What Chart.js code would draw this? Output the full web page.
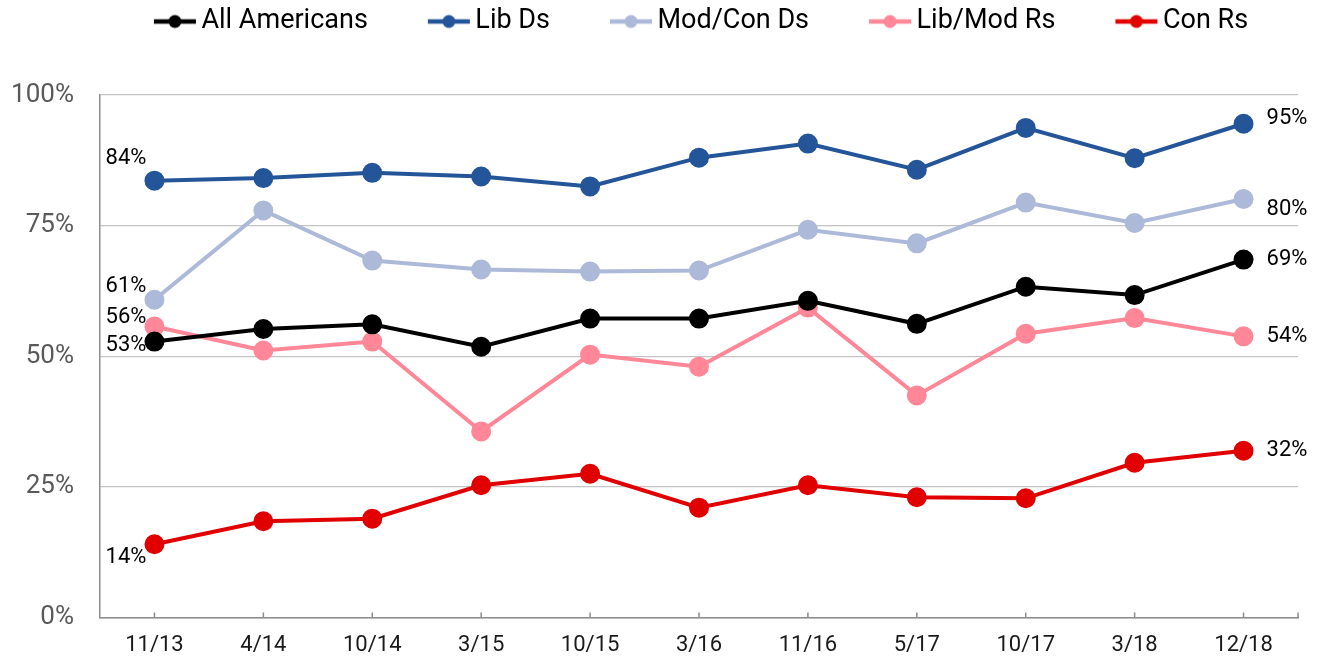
<!DOCTYPE html>
<html>
<head>
<meta charset="utf-8">
<script src="https://cdn.jsdelivr.net/npm/chart.js@4"></script>
<style>
  html, body { margin: 0; padding: 0; background: #fff; }
  #wrap { width: 1328px; height: 659px; }
</style>
</head>
<body>
<div id="wrap"><canvas id="myChart"></canvas></div>
<script>
var surveys = ["11/13","4/14","10/14","3/15","10/15","3/16","11/16","5/17","10/17","3/18","12/18"]
var allAmericans = [52.8, 55.2, 56.1, 51.8, 57.2, 57.2, 60.6, 56.2, 63.3, 61.7, 68.5]
var libDs = [83.6, 84.1, 85.1, 84.4, 82.5, 88.0, 90.7, 85.7, 93.7, 87.9, 94.5]
var modConDs = [60.8, 77.9, 68.3, 66.6, 66.2, 66.4, 74.2, 71.6, 79.4, 75.5, 80.1]
var libModRs = [55.7, 51.1, 52.8, 35.6, 50.3, 48.0, 59.3, 42.5, 54.3, 57.3, 53.8]
var conRs = [14.0, 18.4, 18.9, 25.3, 27.5, 21.0, 25.3, 23.0, 22.8, 29.6, 31.9]
var yTicks = [0, 25, 50, 75, 100]

var colors = ["#000000", "#245599", "#adb9d9", "#ff8797", "#e00000"]
// vertical nudge of the first-point labels, per series
var firstLabelDy = [4, -22, -13, -9, 13]
var lastLabelDy = [0, -5, 11, 0, 0]

function makeMarker(color) {
  var c = document.createElement("canvas")
  c.width = 110
  c.height = 20
  var g = c.getContext("2d")
  g.strokeStyle = color
  g.lineWidth = 4.5
  g.beginPath()
  g.moveTo(67, 10)
  g.lineTo(109, 10)
  g.stroke()
  g.fillStyle = color
  g.beginPath()
  g.arc(88, 10, 6.5, 0, Math.PI * 2)
  g.fill()
  return c
}
var markers = colors.map(makeMarker)

function series(label, data, i) {
  return {
    label: label,
    data: data,
    borderColor: colors[i],
    backgroundColor: colors[i],
    pointBackgroundColor: colors[i],
    pointBorderColor: colors[i],
    borderWidth: 4,
    pointRadius: 8,
    pointHoverRadius: 8,
    fill: false,
    tension: 0
  }
}

var endLabels = {
  id: "endLabels",
  afterDatasetsDraw: function (chart) {
    var ctx = chart.ctx
    ctx.save()
    ctx.font = "22px Roboto"
    ctx.fillStyle = "#000"
    ctx.textBaseline = "middle"
    chart.data.datasets.forEach(function (ds, i) {
      var meta = chart.getDatasetMeta(i)
      var p0 = meta.data[0]
      var pN = meta.data[meta.data.length - 1]
      ctx.textAlign = "right"
      ctx.fillText(Math.round(ds.data[0]) + "%", p0.x - 8, p0.y + firstLabelDy[i])
      ctx.textAlign = "left"
      ctx.fillText(Math.round(ds.data[ds.data.length - 1]) + "%", pN.x + 23, pN.y + lastLabelDy[i])
    })
    ctx.restore()
  }
}

var upTicks = {
  id: "upTicks",
  afterDraw: function (chart) {
    var ctx = chart.ctx
    var x = chart.scales.x
    var bottom = chart.chartArea.bottom
    ctx.save()
    ctx.strokeStyle = "#8c8c8c"
    ctx.lineWidth = 1.5
    ctx.beginPath()
    surveys.forEach(function (s, i) {
      var px = x.getPixelForValue(i)
      ctx.moveTo(px, bottom)
      ctx.lineTo(px, bottom - 5)
    })
    ctx.moveTo(chart.chartArea.right, bottom)
    ctx.lineTo(chart.chartArea.right, bottom - 5)
    ctx.stroke()
    ctx.restore()
  }
}

var legendShift = {
  id: "legendShift",
  afterLayout: function (chart) {
    var lg = chart.legend
    lg.left += 23
    lg.right += 23
    lg.top -= 50
    lg.bottom -= 50
  }
}

var ctx = document.getElementById("myChart")
var myChart = new Chart(ctx, {
  type: "line",
  data: {
    labels: surveys,
    datasets: [
      series("All Americans", allAmericans, 0),
      series("Lib Ds", libDs, 1),
      series("Mod/Con Ds", modConDs, 2),
      series("Lib/Mod Rs", libModRs, 3),
      series("Con Rs", conRs, 4)
    ]
  },
  options: {
    responsive: true,
    maintainAspectRatio: false,
    animation: false,
    layout: { padding: { top: 56, right: 30, left: 0, bottom: 0 } },
    plugins: {
      tooltip: { enabled: false },
      legend: {
        position: "top",
        labels: {
          usePointStyle: true,
          pointStyleWidth: 92,
          padding: 2,
          color: "#000",
          font: { family: "Roboto", size: 27 },
          generateLabels: function (chart) {
            var items = Chart.defaults.plugins.legend.labels.generateLabels(chart)
            items.forEach(function (it, i) { it.pointStyle = markers[i] })
            return items
          }
        }
      }
    },
    scales: {
      x: {
        offset: true,
        afterFit: function (scale) { scale.height = 41 },
        grid: { display: true, drawOnChartArea: false, drawTicks: false },
        border: { display: true, color: "#8c8c8c", width: 1.5 },
        ticks: { color: "#1a1a1a", padding: 15, font: { family: "Roboto", size: 22 } }
      },
      y: {
        min: 0,
        max: 100,
        afterFit: function (scale) { scale.width = 100 },
        afterBuildTicks: function (scale) {
          scale.ticks = yTicks.map(function (v) { return { value: v } })
        },
        grid: { color: "#c4c4c4", lineWidth: 1.2, drawTicks: false },
        border: { display: true, color: "#8c8c8c", width: 1.5 },
        ticks: {
          color: "#595959",
          padding: 26,
          font: { family: "Roboto", size: 26 },
          callback: function (v) { return v + "%" }
        }
      }
    }
  },
  plugins: [endLabels, upTicks, legendShift]
})
</script>
</body>
</html>
